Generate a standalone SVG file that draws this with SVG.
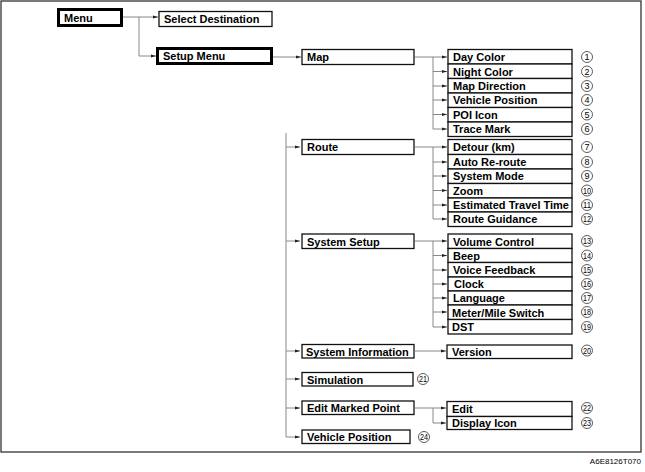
<svg xmlns="http://www.w3.org/2000/svg" width="645" height="472" viewBox="0 0 645 472">
<style>
.bx{fill:#fff;stroke:#111;stroke-width:1.3}
.bt{fill:#fff;stroke:#000;stroke-width:3}
.t{font-family:"Liberation Sans",Arial,sans-serif;font-weight:bold;font-size:11px;fill:#000}
.c{fill:none;stroke:#888;stroke-width:1}
.n circle{fill:#fff;stroke:#333;stroke-width:0.8}
.n text{font-family:"Liberation Sans Narrow","Liberation Sans",Arial,sans-serif;font-size:9px;fill:#000;text-anchor:middle}
.code{font-family:"Liberation Sans",Arial,sans-serif;font-size:8px;fill:#000;text-anchor:end}
</style>
<defs>
<marker id="ah" markerWidth="5" markerHeight="4" refX="5" refY="2" orient="auto" markerUnits="userSpaceOnUse"><path d="M0,0.5 L5,2 L0,3.5 z" fill="#222"/></marker>
</defs>
<rect x="1" y="1" width="640" height="451" fill="#fff" stroke="#333" stroke-width="1.3"/>

<g id="connectors">
<path class="c" d="M122,17 H139 V56 H156" marker-end="url(#ah)"/>
<path class="c" d="M139,17 H158" marker-end="url(#ah)"/>
<path class="c" d="M273,57 H301" marker-end="url(#ah)"/>
<path class="c" d="M286,133 V437 H300" marker-end="url(#ah)"/>
<path class="c" d="M286,147 H300" marker-end="url(#ah)"/>
<path class="c" d="M286,241 H300" marker-end="url(#ah)"/>
<path class="c" d="M286,351 H300" marker-end="url(#ah)"/>
<path class="c" d="M286,379 H300" marker-end="url(#ah)"/>
<path class="c" d="M286,408 H300" marker-end="url(#ah)"/>
<!-- Map children -->
<path class="c" d="M415,57 H447" marker-end="url(#ah)"/>
<path class="c" d="M433,57 V129"/>
<path class="c" d="M433,71.5 H447" marker-end="url(#ah)"/>
<path class="c" d="M433,86 H447" marker-end="url(#ah)"/>
<path class="c" d="M433,100 H447" marker-end="url(#ah)"/>
<path class="c" d="M433,114.5 H447" marker-end="url(#ah)"/>
<path class="c" d="M433,129 H447" marker-end="url(#ah)"/>
<!-- Route children -->
<path class="c" d="M415,147 H447" marker-end="url(#ah)"/>
<path class="c" d="M433,147 V219"/>
<path class="c" d="M433,162 H447" marker-end="url(#ah)"/>
<path class="c" d="M433,176 H447" marker-end="url(#ah)"/>
<path class="c" d="M433,190.5 H447" marker-end="url(#ah)"/>
<path class="c" d="M433,205 H447" marker-end="url(#ah)"/>
<path class="c" d="M433,219 H447" marker-end="url(#ah)"/>
<!-- System Setup children -->
<path class="c" d="M415,241 H447" marker-end="url(#ah)"/>
<path class="c" d="M433,241 V327"/>
<path class="c" d="M433,255.5 H447" marker-end="url(#ah)"/>
<path class="c" d="M433,270 H447" marker-end="url(#ah)"/>
<path class="c" d="M433,284 H447" marker-end="url(#ah)"/>
<path class="c" d="M433,298 H447" marker-end="url(#ah)"/>
<path class="c" d="M433,312 H447" marker-end="url(#ah)"/>
<path class="c" d="M433,327 H447" marker-end="url(#ah)"/>
<!-- System Information -->
<path class="c" d="M415,351 H446" marker-end="url(#ah)"/>
<!-- Edit Marked Point -->
<path class="c" d="M415,408 H446" marker-end="url(#ah)"/>
<path class="c" d="M433,408 V423 H446" marker-end="url(#ah)"/>
</g>

<g id="menu"><rect class="bt" x="58.5" y="9.5" width="63" height="16"/><text class="t" x="64" y="21.5">Menu</text></g>
<g id="select-destination"><rect class="bx" x="159" y="11.5" width="113" height="15"/><text class="t" x="164" y="23">Select Destination</text></g>
<g id="setup-menu"><rect class="bt" x="157.5" y="48.5" width="114" height="15"/><text class="t" x="163" y="60">Setup Menu</text></g>

<g id="map"><rect class="bx" x="302" y="49.5" width="112" height="15"/><text class="t" x="307" y="61">Map</text></g>
<g id="route"><rect class="bx" x="302" y="139.5" width="112" height="15"/><text class="t" x="307" y="151">Route</text></g>
<g id="system-setup"><rect class="bx" x="302" y="234" width="112" height="14.5"/><text class="t" x="307" y="245.5">System Setup</text></g>
<g id="system-information"><rect class="bx" x="302" y="344.5" width="112" height="13.5"/><text class="t" x="306" y="355.5">System Information</text></g>
<g id="simulation"><rect class="bx" x="302" y="372.5" width="111" height="13.5"/><text class="t" x="307" y="383.5">Simulation</text></g>
<g id="edit-marked-point"><rect class="bx" x="302" y="401" width="112" height="13.5"/><text class="t" x="307" y="412">Edit Marked Point</text></g>
<g id="vehicle-position-main"><rect class="bx" x="302" y="430" width="108" height="13.5"/><text class="t" x="307" y="441">Vehicle Position</text></g>

<!-- Map children -->
<g id="day-color"><rect class="bx" x="448" y="49.5" width="124" height="14.5"/><text class="t" x="453" y="61">Day Color</text></g>
<g id="night-color"><rect class="bx" x="448" y="64" width="124" height="14.5"/><text class="t" x="453" y="75.5">Night Color</text></g>
<g id="map-direction"><rect class="bx" x="448" y="78.5" width="124" height="14.5"/><text class="t" x="453" y="90">Map Direction</text></g>
<g id="vehicle-position"><rect class="bx" x="448" y="93" width="124" height="14.5"/><text class="t" x="453" y="104">Vehicle Position</text></g>
<g id="poi-icon"><rect class="bx" x="448" y="107.5" width="124" height="14.5"/><text class="t" x="453" y="118.5">POI Icon</text></g>
<g id="trace-mark"><rect class="bx" x="448" y="122" width="124" height="14.5"/><text class="t" x="453" y="133">Trace Mark</text></g>

<!-- Route children -->
<g id="detour"><rect class="bx" x="448" y="139.5" width="124" height="15"/><text class="t" x="453" y="151">Detour (km)</text></g>
<g id="auto-reroute"><rect class="bx" x="448" y="154.5" width="124" height="14.5"/><text class="t" x="453" y="166">Auto Re-route</text></g>
<g id="system-mode"><rect class="bx" x="448" y="169" width="124" height="14.5"/><text class="t" x="453" y="180">System Mode</text></g>
<g id="zoom"><rect class="bx" x="448" y="183.5" width="124" height="14.5"/><text class="t" x="453" y="194.5">Zoom</text></g>
<g id="estimated-travel-time"><rect class="bx" x="448" y="198" width="124" height="14"/><text class="t" x="453" y="209" textLength="116" lengthAdjust="spacingAndGlyphs">Estimated Travel Time</text></g>
<g id="route-guidance"><rect class="bx" x="448" y="212" width="124" height="14.5"/><text class="t" x="453" y="223">Route Guidance</text></g>

<!-- System Setup children -->
<g id="volume-control"><rect class="bx" x="448" y="234" width="124" height="14.5"/><text class="t" x="453" y="245.5">Volume Control</text></g>
<g id="beep"><rect class="bx" x="448" y="248.5" width="124" height="14"/><text class="t" x="453" y="259.5">Beep</text></g>
<g id="voice-feedback"><rect class="bx" x="448" y="262.5" width="124" height="14.5"/><text class="t" x="453" y="274">Voice Feedback</text></g>
<g id="clock"><rect class="bx" x="448" y="277" width="124" height="14"/><text class="t" x="454" y="288">Clock</text></g>
<g id="language"><rect class="bx" x="448" y="291" width="124" height="14"/><text class="t" x="453" y="302">Language</text></g>
<g id="meter-mile-switch"><rect class="bx" x="448" y="305" width="124" height="14.5"/><text class="t" x="452" y="316.5">Meter/Mile Switch</text></g>
<g id="dst"><rect class="bx" x="448" y="319.5" width="124" height="14.5"/><text class="t" x="452" y="331">DST</text></g>

<g id="version"><rect class="bx" x="447" y="345" width="125" height="13.5"/><text class="t" x="452" y="356">Version</text></g>
<g id="edit"><rect class="bx" x="447" y="401.5" width="125" height="15"/><text class="t" x="452" y="413">Edit</text></g>
<g id="display-icon"><rect class="bx" x="447" y="416.5" width="125" height="13"/><text class="t" x="452" y="427">Display Icon</text></g>

<g id="numbers" class="n">
<circle cx="587" cy="57" r="5.5"/><text x="587" y="60.2">1</text>
<circle cx="587" cy="71.5" r="5.5"/><text x="587" y="74.7">2</text>
<circle cx="587" cy="86" r="5.5"/><text x="587" y="89.2">3</text>
<circle cx="587" cy="100" r="5.5"/><text x="587" y="103.2">4</text>
<circle cx="587" cy="114.5" r="5.5"/><text x="587" y="117.7">5</text>
<circle cx="587" cy="129" r="5.5"/><text x="587" y="132.2">6</text>
<circle cx="587" cy="147" r="5.5"/><text x="587" y="150.2">7</text>
<circle cx="587" cy="162" r="5.5"/><text x="587" y="165.2">8</text>
<circle cx="587" cy="176" r="5.5"/><text x="587" y="179.2">9</text>
<circle cx="587" cy="190.5" r="5.5"/><text x="587" y="193.7" textLength="8" lengthAdjust="spacingAndGlyphs">10</text>
<circle cx="587" cy="205" r="5.5"/><text x="587" y="208.2" textLength="8" lengthAdjust="spacingAndGlyphs">11</text>
<circle cx="587" cy="219" r="5.5"/><text x="587" y="222.2" textLength="8" lengthAdjust="spacingAndGlyphs">12</text>
<circle cx="587" cy="241" r="5.5"/><text x="587" y="244.2" textLength="8" lengthAdjust="spacingAndGlyphs">13</text>
<circle cx="587" cy="255.5" r="5.5"/><text x="587" y="258.7" textLength="8" lengthAdjust="spacingAndGlyphs">14</text>
<circle cx="587" cy="270" r="5.5"/><text x="587" y="273.2" textLength="8" lengthAdjust="spacingAndGlyphs">15</text>
<circle cx="587" cy="284" r="5.5"/><text x="587" y="287.2" textLength="8" lengthAdjust="spacingAndGlyphs">16</text>
<circle cx="587" cy="298" r="5.5"/><text x="587" y="301.2" textLength="8" lengthAdjust="spacingAndGlyphs">17</text>
<circle cx="587" cy="312" r="5.5"/><text x="587" y="315.2" textLength="8" lengthAdjust="spacingAndGlyphs">18</text>
<circle cx="587" cy="327" r="5.5"/><text x="587" y="330.2" textLength="8" lengthAdjust="spacingAndGlyphs">19</text>
<circle cx="587" cy="350.5" r="5.5"/><text x="587" y="353.7" textLength="8" lengthAdjust="spacingAndGlyphs">20</text>
<circle cx="423" cy="379" r="5.5"/><text x="423" y="382.2" textLength="8" lengthAdjust="spacingAndGlyphs">21</text>
<circle cx="587" cy="408" r="5.5"/><text x="587" y="411.2" textLength="8" lengthAdjust="spacingAndGlyphs">22</text>
<circle cx="587" cy="423" r="5.5"/><text x="587" y="426.2" textLength="8" lengthAdjust="spacingAndGlyphs">23</text>
<circle cx="424" cy="437" r="5.5"/><text x="424" y="440.2" textLength="8" lengthAdjust="spacingAndGlyphs">24</text>
</g>

<text class="code" x="641" y="464">A6E8126T070</text>
</svg>
